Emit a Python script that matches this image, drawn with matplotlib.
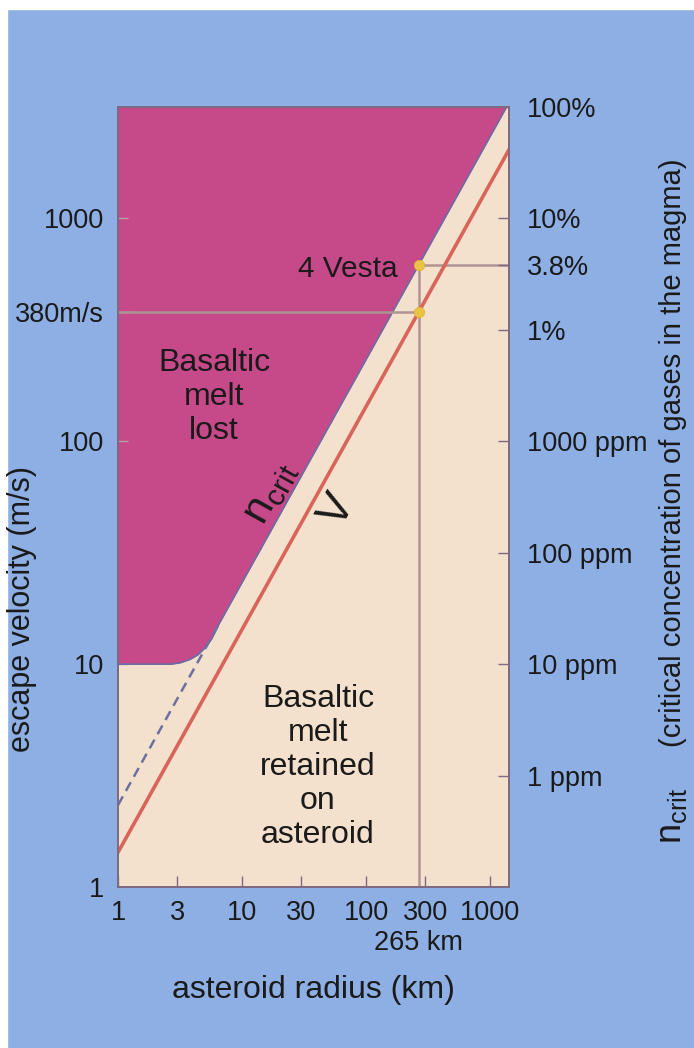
import numpy as np
import matplotlib.pyplot as plt
from matplotlib.patches import Rectangle

plt.rcParams['font.family'] = ['Liberation Sans', 'DejaVu Sans']
plt.rcParams['mathtext.fontset'] = 'custom'
plt.rcParams['mathtext.rm'] = 'Liberation Sans'
plt.rcParams['mathtext.it'] = 'Liberation Sans:italic'

# axis ticks
x_ticks = [1, 3, 10, 30, 100, 300, 1000]
x_ticklabels = ['1', '3', '10', '30', '100', '300', '1000']
v_ticks = [1, 10, 100, 380, 1000]
v_ticklabels = ['1', '10', '100', '380m/s', '1000']
n_ticks = [1, 0.1, 0.038, 0.01, 1e-3, 1e-4, 1e-5, 1e-6]
n_ticklabels = ['100%', '10%', '3.8%', '1%', '1000 ppm', '100 ppm', '10 ppm', '1 ppm']

R_MAX = 1420
V_MAX = 10 ** 3.5
N_MIN, N_MAX = 1e-7, 1.0

# magenta region boundary (n_crit curve), radius km / velocity m/s
bound_r = [1, 2.7, 3.2, 3.8, 4.4, 5.0, 5.7, 6.5, 1357]
bound_v = [10, 10, 10.15, 10.5, 11.0, 11.8, 13.0, 15.1, 3162]
# dashed continuation of n_crit below the 10 m/s plateau
dash_r = [1, 6.5]
dash_v = [2.33, 15.1]
# escape velocity line V
vesc_r = [1, 1420]
vesc_v = [1.43, 2035]
# 4 Vesta
vesta_r = 265
vesta_vesc = 380
vesta_vcrit = 616

BLUE = '#8EAFE3'
TAN = '#F3E1CD'
MAGENTA = '#C64A8A'
RED = '#D9645A'
GUIDE = '#B09494'
SPINE = '#7F6A84'
TXT = '#1A1A1A'

fig = plt.figure(figsize=(6.94, 10.48), dpi=100, facecolor=BLUE)
W, H = 694, 1048
# white frame strips at top and left
fig.patches.append(Rectangle((0, 1 - 9 / H), 1, 9 / H, transform=fig.transFigure,
                             color='white', zorder=0))
fig.patches.append(Rectangle((0, 0), 7 / W, 1, transform=fig.transFigure,
                             color='white', zorder=0))

ax = fig.add_axes([118 / W, 1 - 887 / H, 391 / W, 780 / H])
ax.set_facecolor(TAN)
ax.set_xscale('log')
ax.set_yscale('log')
ax.set_xlim(1, R_MAX)
ax.set_ylim(1, V_MAX)

ax.fill_between(bound_r, bound_v, V_MAX, color=MAGENTA, lw=0, zorder=1)
ax.plot(bound_r, bound_v, color='#6A6DA4', lw=1.2, zorder=2)
ax.plot(dash_r, dash_v, color='#6C70A0', lw=1.8, ls=(0, (4, 2.5)), zorder=2)

# Vesta guide lines
ax.plot([1, vesta_r], [vesta_vesc, vesta_vesc], color=GUIDE, lw=1.8, zorder=2)
ax.plot([vesta_r, R_MAX], [vesta_vcrit, vesta_vcrit], color=GUIDE, lw=1.8, zorder=2)
ax.plot([vesta_r, vesta_r], [1, vesta_vcrit], color=GUIDE, lw=1.8, zorder=2)

ax.plot(vesc_r, vesc_v, color=RED, lw=2.6, zorder=3)
ax.plot([vesta_r, vesta_r], [vesta_vcrit, vesta_vesc], ls='none', marker='o',
        ms=7.5, mfc='#EBC344', mec='#E0B030', mew=0.5, zorder=4)

ax.set_xticks(x_ticks)
ax.set_xticklabels(x_ticklabels)
ax.set_yticks(v_ticks)
ax.set_yticklabels(v_ticklabels)
ax.minorticks_off()
ax.tick_params(axis='x', direction='in', length=8, width=1, color=SPINE,
               labelsize=19.5, pad=9, labelcolor=TXT)
ax.tick_params(axis='y', direction='in', length=7, width=1, color='#B8A0A8',
               labelsize=19.5, pad=10, labelcolor=TXT)
for s in ax.spines.values():
    s.set_color(SPINE)
    s.set_linewidth(1.3)

ax2 = ax.twinx()
ax2.set_yscale('log')
ax2.set_ylim(N_MIN, N_MAX)
ax2.set_yticks(n_ticks)
ax2.set_yticklabels(n_ticklabels)
ax2.minorticks_off()
ax2.tick_params(axis='y', direction='in', length=8, width=1, color=SPINE,
                labelsize=19.5, pad=13, labelcolor=TXT)
for s in ax2.spines.values():
    s.set_color(SPINE)
    s.set_linewidth(1.3)

# angle of a slope-1 line on screen
p1 = ax.transData.transform((1, 1))
p2 = ax.transData.transform((10, 10))
ang = np.degrees(np.arctan2(p2[1] - p1[1], p2[0] - p1[0]))

ax.text(0.2455, 0.628, 'Basaltic\nmelt\nlost', transform=ax.transAxes,
        ha='center', va='center', fontsize=23, color=TXT, linespacing=1.18, zorder=5)
ax.text(0.5115, 0.154, 'Basaltic\nmelt\nretained\non\nasteroid', transform=ax.transAxes,
        ha='center', va='center', fontsize=23, color=TXT, linespacing=1.18, zorder=5)
ax.text(0.389, 0.506, r'$\mathrm{n_{crit}}$', transform=ax.transAxes, rotation=ang,
        rotation_mode='anchor', ha='center', va='center', fontsize=31, color=TXT, zorder=5)
ax.text(0.562, 0.483, 'V', transform=ax.transAxes, rotation=ang,
        rotation_mode='anchor', ha='center', va='center', fontsize=32, color=TXT, zorder=5)
ax.text(0.716, 0.792, '4 Vesta', transform=ax.transAxes, ha='right', va='center',
        fontsize=21.5, color=TXT, zorder=5)
ax.text(vesta_r, -0.072, '265 km', transform=ax.get_xaxis_transform(), ha='center',
        va='center', fontsize=19.5, color=TXT)

fig.text(313 / W, 1 - 990 / H, 'asteroid radius (km)', ha='center', va='center',
         fontsize=23, color=TXT)
fig.text(22 / W, 1 - 609 / H, 'escape velocity (m/s)', rotation=90, ha='center',
         va='center', fontsize=22, color=TXT)
fig.text(681 / W, 1 - 453 / H, '(critical concentration of gases in the magma)',
         rotation=90, rotation_mode='anchor', ha='center', va='baseline',
         fontsize=21, color=TXT)
fig.text(681 / W, 1 - 816 / H, r'$\mathrm{n_{crit}}$', rotation=90,
         rotation_mode='anchor', ha='center', va='baseline', fontsize=26, color=TXT)

fig.savefig('out.png', dpi=100, facecolor=BLUE)
